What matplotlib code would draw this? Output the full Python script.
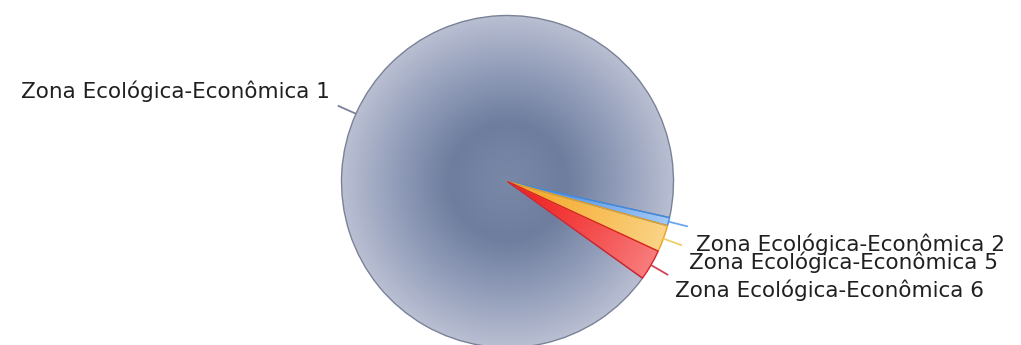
import numpy as np
import matplotlib
matplotlib.use("Agg")
import matplotlib.pyplot as plt

# data
zonas = ["Zona Ecológica-Econômica 1", "Zona Ecológica-Econômica 2",
         "Zona Ecológica-Econômica 5", "Zona Ecológica-Econômica 6"]
valores = [93.6, 0.8, 2.6, 3.0]

# gradient stops per slice (centre -> rim) and outline colours
cores_centro = [(122, 136, 168), (70, 140, 230), (245, 168, 40), (240, 30, 30)]
cores_borda = [(186, 191, 210), (165, 202, 245), (250, 212, 135), (248, 125, 125)]
cores_linha = ["#7a8298", "#3f8ae0", "#eaa020", "#d8202c"]
cores_guia = ["#7a8298", "#6aa8ec", "#eecf6a", "#cc4455"]

W, H = 1021, 345
cx, cy, R = 507.5, 345 - 181.5, 166

fig = plt.figure(figsize=(W / 100, H / 100), dpi=100)
ax = fig.add_axes([0, 0, 1, 1])

wedges, _ = ax.pie(valores, center=(cx, cy), radius=R, startangle=-35.6,
                   counterclock=False, frame=True,
                   wedgeprops=dict(facecolor="none", linewidth=1.0, zorder=3))
ax.set_xlim(0, W)
ax.set_ylim(0, H)
ax.set_aspect("equal")
ax.axis("off")

# radial gradient images clipped to each wedge
n = 600
xs = np.linspace(cx - R, cx + R, n)
ys = np.linspace(cy - R, cy + R, n)
XX, YY = np.meshgrid(xs, ys)
rr = np.clip(np.hypot(XX - cx, YY - cy) / R, 0, 1)

for i, w in enumerate(wedges):
    w.set_edgecolor(cores_linha[i])
    c0 = np.array(cores_centro[i]) / 255
    c1 = np.array(cores_borda[i]) / 255
    img = np.zeros((n, n, 3))
    if i == 0:
        dark = np.array((110, 125, 158)) / 255
        mid = np.array((142, 154, 183)) / 255
        stops = [0, 0.35, 0.65, 1.0]
        for k in range(3):
            img[..., k] = np.interp(rr, stops, [c0[k], dark[k], mid[k], c1[k]])
    else:
        t = rr ** 1.3
        for k in range(3):
            img[..., k] = c0[k] + (c1[k] - c0[k]) * t
    im = ax.imshow(img, extent=(cx - R, cx + R, cy - R, cy + R),
                   origin="lower", interpolation="bilinear", zorder=1)
    im.set_clip_path(w)

# leader lines and labels
offsets = [(-8, 8, "right"), (8, -25, "left"), (7, -24, "left"), (7, -22, "left")]
for i, w in enumerate(wedges):
    ang = np.deg2rad((w.theta1 + w.theta2) / 2)
    x0, y0 = cx + R * np.cos(ang), cy + R * np.sin(ang)
    x1, y1 = cx + 1.12 * R * np.cos(ang), cy + 1.12 * R * np.sin(ang)
    ax.plot([x0, x1], [y0, y1], color=cores_guia[i], lw=1.3, zorder=4,
            solid_capstyle="butt")
    dx, dy, ha = offsets[i]
    ax.annotate(zonas[i], xy=(x1, y1), xytext=(dx, dy), textcoords="offset pixels",
                ha=ha, va="baseline", fontsize=15.5, color="#202020",
                family="DejaVu Sans")

fig.savefig("out.png", dpi=100)
